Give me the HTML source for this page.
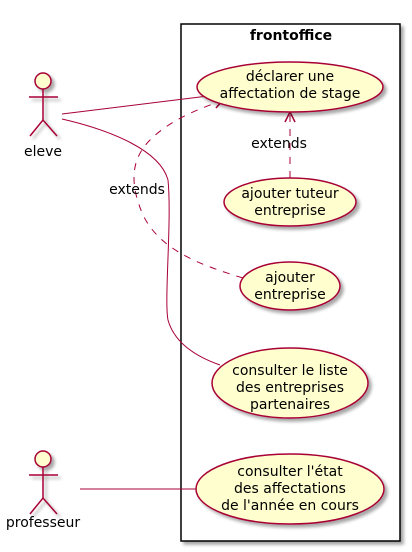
<!DOCTYPE html>
<html><head><meta charset="utf-8"><style>
html,body{margin:0;padding:0;background:#fff;}
svg{display:block;}
text{font-family:"DejaVu Sans","Liberation Sans",sans-serif;font-size:14px;fill:#000;}
</style></head><body>
<svg width="412" height="552" viewBox="0 0 412 552" xmlns="http://www.w3.org/2000/svg">
<defs>
<filter id="sh" x="-20%" y="-20%" width="150%" height="150%"><feGaussianBlur in="SourceAlpha" stdDeviation="1.5"/><feOffset dx="3" dy="3"/><feComponentTransfer><feFuncA type="linear" slope="0.35"/></feComponentTransfer><feMerge><feMergeNode/><feMergeNode in="SourceGraphic"/></feMerge></filter>
</defs>
<rect x="181" y="24" width="219" height="517" fill="#fff" stroke="#000" stroke-width="1.5" filter="url(#sh)"/>
<text x="291" y="40" text-anchor="middle" font-weight="bold">frontoffice</text>

<g fill="none" stroke="#A80036" stroke-width="1">
<line x1="62" y1="114" x2="208" y2="96"/>
<path d="M62,119 C110,130 160,150 168,180 C172,220 164,300 168,320 C175,345 200,358 220,365"/>
<line x1="80" y1="489" x2="196" y2="489"/>
<path d="M243,278 C200,265 160,250 143,215 C130,185 130,160 150,140 C170,120 200,108 222,101" stroke-dasharray="7,7"/>
<line x1="290" y1="178" x2="290" y2="114" stroke-dasharray="7,7"/>
<polyline points="213,99 222,101 216,108" stroke-width="1.5"/>
<polyline points="285,122 290,112 295,122" stroke-width="1.5"/>
</g>
<text x="279" y="148" text-anchor="middle" font-size="13">extends</text>
<text x="137" y="194" text-anchor="middle" font-size="13">extends</text>

<g fill="#FEFECE" stroke="#A80036" stroke-width="1.5" filter="url(#sh)">
<ellipse cx="290" cy="87" rx="93" ry="25"/>
<ellipse cx="290" cy="202" rx="66" ry="24"/>
<ellipse cx="290" cy="286" rx="50" ry="24"/>
<ellipse cx="290" cy="383" rx="78" ry="35"/>
<ellipse cx="290" cy="489" rx="94" ry="35"/>
</g>
<g text-anchor="middle">
<text x="290" y="81">déclarer une</text>
<text x="290" y="98">affectation de stage</text>
<text x="290" y="198">ajouter tuteur</text>
<text x="290" y="215">entreprise</text>
<text x="290" y="282">ajouter</text>
<text x="290" y="299">entreprise</text>
<text x="290" y="375">consulter le liste</text>
<text x="290" y="392">des entreprises</text>
<text x="290" y="409">partenaires</text>
<text x="290" y="476">consulter l'état</text>
<text x="290" y="493">des affectations</text>
<text x="290" y="510">de l'année en cours</text>
</g>

<g fill="none" stroke="#A80036" stroke-width="1.5" filter="url(#sh)">
<circle cx="43" cy="81" r="8" fill="#FEFECE"/>
<line x1="43" y1="89" x2="43" y2="120"/>
<line x1="29" y1="97" x2="58" y2="97"/>
<polyline points="30,136 43,120 57,136"/>
<circle cx="43" cy="459" r="8" fill="#FEFECE"/>
<line x1="43" y1="467" x2="43" y2="498"/>
<line x1="29" y1="475" x2="58" y2="475"/>
<polyline points="30,514 43,498 57,514"/>
</g>
<text x="43" y="156" text-anchor="middle">eleve</text>
<text x="43" y="527" text-anchor="middle">professeur</text>
</svg>
</body></html>
